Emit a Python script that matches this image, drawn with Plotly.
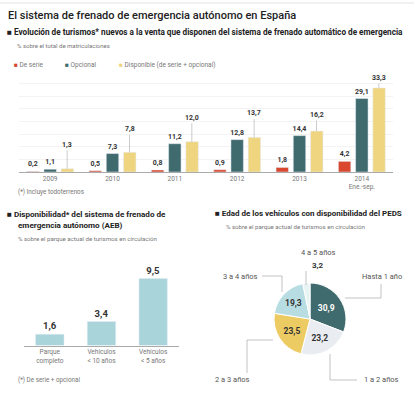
import plotly.graph_objects as go

# ---------------- data ----------------
years = ["2009", "2010", "2011", "2012", "2013", "2014<br>Ene.-sep."]
de_serie = [0.2, 0.5, 0.8, 0.9, 1.8, 4.2]
opcional = [1.1, 7.3, 11.2, 12.8, 14.4, 29.1]
disponible = [1.3, 7.8, 12.0, 13.7, 16.2, 33.3]

parque_cats = ["Parque<br>completo", "Vehículos<br>< 10 años", "Vehículos<br>< 5 años"]
parque_vals = [1.6, 3.4, 9.5]

edad_labels = ["Hasta 1 año", "1 a 2 años", "2 a 3 años", "3 a 4 años", "4 a 5 años"]
edad_vals = [30.9, 23.2, 23.5, 19.3, 3.2]

# ---------------- style ----------------
FONT = "Roboto, sans-serif"
RED = "#d9482e"
TEAL = "#3f6b6e"
YEL = "#efd57f"
LBLUE = "#a9d4d9"
PIE_COLS = ["#3f6b6e", "#e9edf1", "#edcb63", "#b7dce1", "#e8f3f3"]
TXT = "#333333"
GREY = "#777777"

W, H = 414, 401
def X(px): return px / W
def Y(py): return 1 - py / H

def fmt(v):
    return f"{v:.1f}".replace(".", ",")

fig = go.Figure()

# top grouped bars
fig.add_trace(go.Bar(x=years, y=de_serie, marker_color=RED, name="De serie",
                     text=[fmt(v) for v in de_serie], textposition="outside",
                     constraintext="none", cliponaxis=False,
                     textfont=dict(size=7, color=TXT, family=FONT, weight="bold"),
                     xaxis="x", yaxis="y"))
fig.add_trace(go.Bar(x=years, y=opcional, marker_color=TEAL, name="Opcional",
                     text=[fmt(v) for v in opcional], textposition="outside",
                     constraintext="none", cliponaxis=False,
                     textfont=dict(size=7, color=TXT, family=FONT, weight="bold"),
                     xaxis="x", yaxis="y"))
fig.add_trace(go.Bar(x=years, y=disponible, marker_color=YEL,
                     name="Disponible (de serie + opcional)",
                     xaxis="x", yaxis="y"))

# bottom-left bars
fig.add_trace(go.Bar(x=parque_cats, y=parque_vals, marker_color=LBLUE,
                     text=[fmt(v) for v in parque_vals], textposition="outside",
                     constraintext="none",
                     textfont=dict(size=9.5, color=TXT, family=FONT, weight="bold"),
                     cliponaxis=False, xaxis="x2", yaxis="y2", width=0.55))

# pie
fig.add_trace(go.Pie(values=edad_vals, labels=edad_labels, sort=False,
                     direction="clockwise", rotation=0,
                     marker=dict(colors=PIE_COLS, line=dict(color="white", width=1)),
                     text=[fmt(v) if v > 5 else "" for v in edad_vals],
                     textinfo="text", textposition="inside",
                     insidetextfont=dict(size=8.5, family=FONT, weight="bold",
                                         color=["white", TXT, TXT, TXT, TXT]),
                     domain=dict(x=[X(274), X(346)], y=[Y(355), Y(283)]),
                     showlegend=False, hoverinfo="skip"))

annotations = []
shapes = []

# yellow labels with leader lines (anchored on the yellow bar of each group)
lift = [-24, -23, -24, -24, -16, -10]
for i, v in enumerate(disponible):
    annotations.append(dict(x=i, y=v, xref="x", yref="y", text=f"<b>{fmt(v)}</b>",
                            showarrow=True, arrowhead=0, arrowwidth=0.6,
                            arrowcolor="#aaa", ax=0, ay=lift[i], standoff=0,
                            xshift=17,
                            font=dict(size=7, color=TXT, family=FONT)))

# titles and texts
def txt(x, y, s, size, color=TXT, bold=False, xanchor="left", weight=None):
    if bold:
        s = f"<b>{s}</b>"
    f = dict(size=size, color=color, family=FONT)
    if weight:
        f["weight"] = weight
    annotations.append(dict(x=X(x), y=Y(y), xref="paper", yref="paper", text=s,
                            showarrow=False, xanchor=xanchor, yanchor="middle",
                            font=f))

txt(6, 16, "El sistema de frenado de emergencia autónomo en España", 11, "#222", weight=500)
txt(5, 32, "■ Evolución de turismos* nuevos a la venta que disponen del sistema de frenado automático de emergencia", 8.2, "#222", True)
txt(15, 45, "% sobre el total de matriculaciones", 6, GREY)
txt(12, 65, f"<span style='color:{RED}'>■</span> De serie", 6.5, GREY)
txt(63, 65, f"<span style='color:{TEAL}'>■</span> Opcional", 6.5, GREY)
txt(117, 65, f"<span style='color:{YEL}'>■</span> Disponible (de serie + opcional)", 6.5, GREY)
txt(16, 192, "(*) Incluye todoterrenos", 6.3, GREY)

txt(5, 214, "■ Disponibilidad* del sistema de frenado de", 8.1, "#222", True)
txt(16, 225, "emergencia autónomo (AEB)", 8.1, "#222", True)
txt(16, 238, "% sobre el parque actual de turismos en circulación", 6.1, GREY)
txt(16, 380, "(*) De serie + opcional", 6.3, GREY)

txt(213, 214, "■ Edad de los vehículos con disponibilidad del PEDS", 8.0, "#222", True)
txt(224, 226, "% sobre el parque actual de turismos en circulación", 6.1, GREY)

# pie outside labels
txt(382, 276, "Hasta 1 año", 7.5, "#555", xanchor="center")
txt(240, 276, "3 a 4 años", 7.5, "#555", xanchor="center")
txt(318, 252, "4 a 5 años", 7.5, "#555", xanchor="center")
txt(318, 265, fmt(edad_vals[4]), 8, TXT, True, xanchor="center")
txt(232, 379, "2 a 3 años", 7.5, "#555", xanchor="center")
txt(381, 379, "1 a 2 años", 7.5, "#555", xanchor="center")

def path(pts):
    d = "M " + " L ".join(f"{X(a)},{Y(b)}" for a, b in pts)
    shapes.append(dict(type="path", path=d, xref="paper", yref="paper",
                       line=dict(color="#aaaaaa", width=0.7)))

path([(345, 298), (381, 298), (381, 284)])
path([(262, 276), (282, 276), (282, 292)])
path([(306, 271), (306, 285)])
path([(273, 340), (247, 340), (247, 373)])
path([(330, 354), (330, 380), (357, 380)])

# rule at top
shapes.append(dict(type="line", xref="paper", yref="paper", x0=0, x1=1,
                   y0=Y(3), y1=Y(3), line=dict(color="#e3e3e3", width=1)))

fig.update_layout(
    width=W, height=H, margin=dict(l=0, r=0, t=0, b=0),
    paper_bgcolor="white", plot_bgcolor="white",
    separators=",.", showlegend=False,
    font=dict(family=FONT, size=8, color=TXT),
    barmode="group", bargap=0.17, bargroupgap=0.28,
    xaxis=dict(domain=[X(19), X(393)], range=[-0.5, 5.5], showgrid=False,
               showline=True, linecolor="#aaa", linewidth=1, ticks="",
               tickfont=dict(size=6.5, color=GREY), fixedrange=True),
    yaxis=dict(domain=[Y(172), Y(71)], range=[0, 40], showticklabels=False,
               showgrid=True, gridcolor="#f3f3f3", gridwidth=1, dtick=5,
               zeroline=False, ticks="", fixedrange=True),
    xaxis2=dict(domain=[X(24), X(179)], range=[-0.5, 2.5], anchor="y2",
                showgrid=False, showline=True, linecolor="#aaa", linewidth=1,
                ticks="", tickfont=dict(size=6.5, color=GREY), fixedrange=True),
    yaxis2=dict(domain=[Y(345.5), Y(261)], range=[0, 12], anchor="x2",
                showticklabels=False, showgrid=False, zeroline=False,
                fixedrange=True),
    annotations=annotations, shapes=shapes,
)

fig.write_html("out.html", config={"displayModeBar": False},
               post_script="document.body.style.margin='0';document.body.style.overflow='hidden';")
